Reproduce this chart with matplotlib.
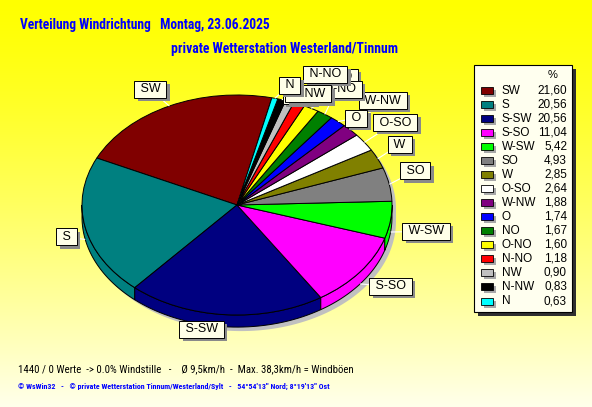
import numpy as np
import matplotlib
matplotlib.use('Agg')
import matplotlib.pyplot as plt
from matplotlib import font_manager as fm
from matplotlib.patches import Polygon, Rectangle
import matplotlib.patheffects as pe

# Daten: Windrichtungsverteilung in %
richtung = ['SW', 'S', 'S-SW', 'S-SO', 'W-SW', 'SO', 'W', 'O-SO',
            'W-NW', 'O', 'NO', 'O-NO', 'N-NO', 'NW', 'N-NW', 'N']
anteil = [21.60, 20.56, 20.56, 11.04, 5.42, 4.93, 2.85, 2.64,
          1.88, 1.74, 1.67, 1.60, 1.18, 0.90, 0.83, 0.63]
farben = ['#800000', '#008080', '#000080', '#ff00ff', '#00ff00', '#808080',
          '#808000', '#ffffff', '#800080', '#0000ff', '#008000', '#ffff00',
          '#ff0000', '#c0c0c0', '#000000', '#00ffff']

# Lage der Beschriftungskästen (Einheiten des Tortenradius)
label_pos = [(-0.56, 1.05), (-1.10, -0.29), (-0.23, -1.13), (0.99, -0.74),
             (1.22, -0.24), (1.15, 0.31), (1.05, 0.55), (1.02, 0.75),
             (0.94, 0.95), (0.77, 0.79), (0.68, 1.16), (0.66, 1.05),
             (0.57, 1.19), (0.40, 1.00), (0.46, 1.01), (0.34, 1.09)]

W, H = 592, 407
cx, cy, rx, ry = 237, 205, 155, 110   # Pixel
span = 1.6
depth = 0.11

# schmale Schrift suchen, sonst Liberation Sans
namen = {f.name for f in fm.fontManager.ttflist}
schmal = ['Liberation Sans']
schmal_stretch = 'normal'
for kand in ['Liberation Sans Narrow', 'Arial Narrow', 'Roboto Condensed',
             'DejaVu Sans Condensed', 'Open Sans Condensed']:
    if kand in namen:
        schmal = [kand, 'DejaVu Sans']
        break
else:
    if any(f.name == 'DejaVu Sans' and f.stretch == 'condensed' for f in fm.fontManager.ttflist):
        schmal = ['DejaVu Sans']
        schmal_stretch = 'condensed'

fig = plt.figure(figsize=(W / 100, H / 100), dpi=100)
renderer = fig.canvas.get_renderer()


def einpassen(txt, breite):
    # Schriftgröße so anpassen, dass die Textbreite passt
    w = txt.get_window_extent(renderer).width
    txt.set_fontsize(txt.get_fontsize() * breite / w)


# Hintergrund mit Farbverlauf
bg = fig.add_axes([0, 0, 1, 1], zorder=0)
t = np.linspace(0, 1, 256)[:, None]
grad = np.dstack([np.ones_like(t), np.ones_like(t), 0.0 + 0.92 * t ** 1.3])
bg.imshow(grad, extent=[0, W, H, 0], aspect='auto')
bg.set_xlim(0, W)
bg.set_ylim(H, 0)
bg.axis('off')

# Torte
ax = fig.add_axes([(cx - span * rx) / W, (H - cy - span * ry) / H,
                   2 * span * rx / W, 2 * span * ry / H], zorder=1)
ax.patch.set_visible(False)
wedges, _ = ax.pie(anteil, colors=farben, startangle=77, counterclock=True,
                   radius=1, wedgeprops=dict(edgecolor='black', linewidth=0.7, zorder=2))
ax.set_aspect('auto')
ax.set_xlim(-span, span)
ax.set_ylim(-span, span)
ax.axis('off')

# Schatten
th = np.radians(np.linspace(0, 180, 100))
th2 = np.radians(np.linspace(180, 360, 100))
sx = np.concatenate([np.cos(th), np.cos(th2)]) + 4 / rx
sy = np.concatenate([np.sin(th), np.sin(th2) - depth]) - 4 / ry
ax.add_patch(Polygon(np.column_stack([sx, sy]), closed=True, fc='#c0c0c0', ec='none', zorder=0.5))

# Seitenflächen (3D)
for w, c in zip(wedges, farben):
    t1, t2 = w.theta1, w.theta2
    for k in (0, 1):
        a = max(t1, 180 + 360 * k)
        b = min(t2, 360 + 360 * k)
        if b <= a:
            continue
        ang = np.radians(np.linspace(a, b, 40))
        xs = np.cos(ang)
        ys = np.sin(ang)
        pts = np.column_stack([np.concatenate([xs, xs[::-1]]),
                               np.concatenate([ys, ys[::-1] - depth])])
        ax.add_patch(Polygon(pts, closed=True, fc=c, ec='black', lw=0.7, zorder=1))

# Beschriftungen mit Führungslinien
for i, (w, name) in enumerate(zip(wedges, richtung)):
    m = np.radians((w.theta1 + w.theta2) / 2)
    x0, y0 = np.cos(m), np.sin(m)
    if y0 < 0:
        y0 -= depth
    lx, ly = label_pos[i]
    ax.plot([x0, lx], [y0, ly], color='white', lw=0.8, zorder=3, solid_capstyle='butt')
    txt = ax.text(lx, ly, ' ' + name + ' ', ha='center', va='center', fontsize=9,
                  family=['Liberation Sans', 'DejaVu Sans'], zorder=4 + i,
                  bbox=dict(boxstyle='square,pad=0.2', fc='#ffffe8', ec='black', lw=0.7))
    txt.get_bbox_patch().set_path_effects([
        pe.SimplePatchShadow(offset=(2.5, -2.5), shadow_rgbFace='#8a8a8a', alpha=1.0),
        pe.Normal()])

# Overlay für Texte und Legende
ov = fig.add_axes([0, 0, 1, 1], zorder=3)
ov.patch.set_visible(False)
ov.set_xlim(0, W)
ov.set_ylim(H, 0)
ov.axis('off')

t1 = ov.text(20, 25, 'Verteilung Windrichtung   Montag, 23.06.2025', color='#0000ff',
             fontsize=10.5, fontweight='bold', family=schmal, fontstretch=schmal_stretch,
             va='center')
einpassen(t1, 252)
t2 = ov.text(171, 49, 'private Wetterstation Westerland/Tinnum', color='#0000ff',
             fontsize=10.5, fontweight='bold', family=schmal, fontstretch=schmal_stretch,
             va='center')
einpassen(t2, 228)

# Legende
ov.add_patch(Rectangle((478, 69), 98, 247, fc='#303030', ec='none'))
ov.add_patch(Rectangle((474, 65), 98, 247, fc='#ffffef', ec='black', lw=0.8))
leg_font = ['Liberation Sans', 'DejaVu Sans']
ov.text(553, 75, '%', ha='center', va='center', fontsize=8, family=leg_font)
for i, (name, v, c) in enumerate(zip(richtung, anteil, farben)):
    y = 90.7 + 14.02 * i
    ov.add_patch(Rectangle((484, y - 0.5), 12, 7, fc='#a8a8a8', ec='none'))
    ov.add_patch(Rectangle((481, y - 3.5), 12, 7, fc=c, ec='black', lw=0.6))
    ov.text(502, y, name, ha='left', va='center', fontsize=8.5, family=leg_font)
    ov.text(567, y, f'{v:.2f}'.replace('.', ','), ha='right', va='center',
            fontsize=8.5, family=leg_font)

# Fußzeilen
f1 = ov.text(18, 369, '1440 / 0 Werte  -> 0.0% Windstille   -    Ø 9,5km/h  -  Max. 38,3km/h = Windböen',
             fontsize=8.5, family=schmal, fontstretch=schmal_stretch, va='center', color='black')
einpassen(f1, 333)
f2 = ov.text(18, 386, "© WsWin32   -   © private Wetterstation Tinnum/Westerland/Sylt   -   "
             "54°54'13'' Nord; 8°19'13'' Ost", fontsize=5.6, fontweight='bold',
             family=schmal, fontstretch=schmal_stretch, va='center', color='#0000ff')
einpassen(f2, 309)

fig.savefig('out.png', dpi=100)
